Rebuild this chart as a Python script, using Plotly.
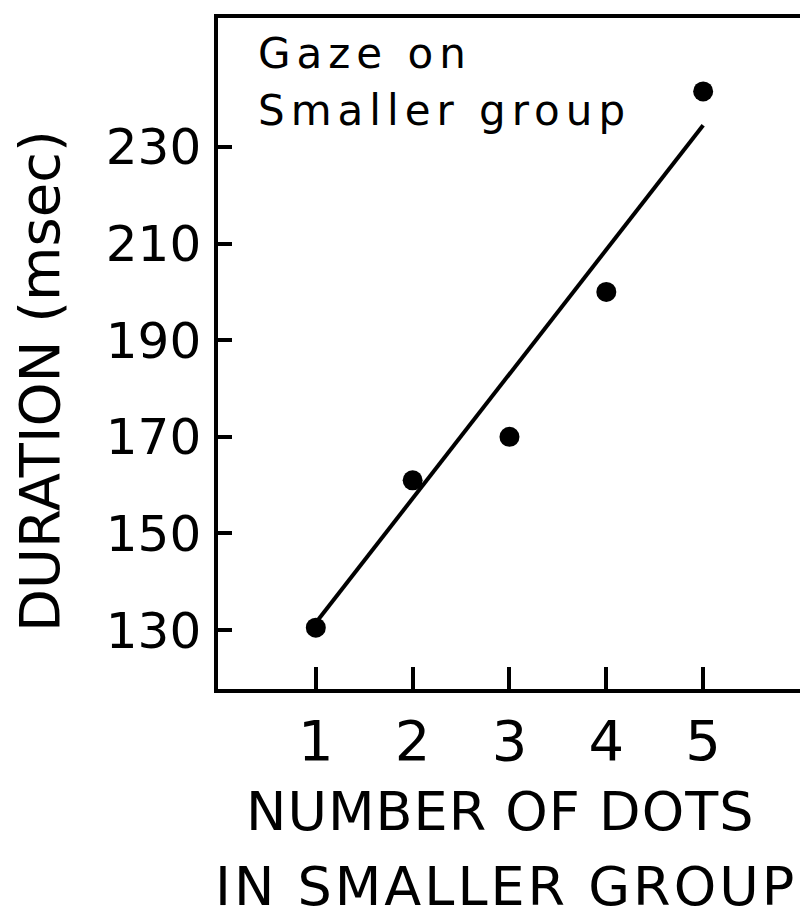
import plotly.graph_objects as go

# data
dots = [1, 2, 3, 4, 5]
duration = [130.5, 161, 170, 200, 241.5]
fit_x = [1, 5]
fit_y = [131.5, 234.5]
x_ticks = [1, 2, 3, 4, 5]
y_ticks = [130, 150, 170, 190, 210, 230]

FONT = "DejaVu Sans"

fig = go.Figure()
fig.add_trace(go.Scatter(x=fit_x, y=fit_y, mode="lines",
                         line=dict(color="black", width=4), showlegend=False))
fig.add_trace(go.Scatter(x=dots, y=duration, mode="markers",
                         marker=dict(color="black", size=20), showlegend=False))

L, R, T, B = 218, 0, 18, 231
W, H = 800, 920
ph = H - T - B
pw = W - L - R

def py(pix):
    return (H - B - pix) / ph

def px(pix):
    return (pix - L) / pw

def spaced(t, s):
    return f'<span style="letter-spacing:{s}px">{t}</span>'

fig.update_layout(
    width=W, height=H,
    margin=dict(l=L, r=R, t=T, b=B),
    paper_bgcolor="white", plot_bgcolor="white",
    font=dict(family=FONT, color="black"),
    xaxis=dict(range=[-0.01, 6.0], tickvals=x_ticks, ticks="inside", ticklen=22,
               tickwidth=3.5, tickcolor="black", showline=True, linewidth=3.5,
               linecolor="black", mirror=True, showgrid=False, zeroline=False,
               tickfont=dict(size=56, family=FONT), ticklabelstandoff=0),
    yaxis=dict(range=[117.8, 256.7], tickvals=y_ticks, ticks="inside", ticklen=14,
               tickwidth=3.5, tickcolor="black", showline=True, linewidth=3.5,
               linecolor="black", mirror=False, showgrid=False, zeroline=False,
               tickfont=dict(size=50, family=FONT), ticklabelstandoff=3),
)

fig.add_annotation(text=spaced("Gaze on", 6), x=px(256), y=py(54), xanchor="left",
                   yanchor="middle", font=dict(size=42, family=FONT),
                   xref="paper", yref="paper", showarrow=False)
fig.add_annotation(text=spaced("Smaller group", 6), x=px(256), y=py(110), xanchor="left",
                   yanchor="middle", font=dict(size=42, family=FONT),
                   xref="paper", yref="paper", showarrow=False)
fig.add_annotation(text="DURATION (msec)", textangle=-90, x=px(40), y=py(381),
                   xanchor="center", yanchor="middle", font=dict(size=56, family=FONT),
                   xref="paper", yref="paper", showarrow=False)
fig.add_annotation(text=spaced("NUMBER OF DOTS", 1), x=px(500), y=py(811), xanchor="center",
                   yanchor="middle", font=dict(size=54, family=FONT),
                   xref="paper", yref="paper", showarrow=False)
fig.add_annotation(text=spaced("IN SMALLER GROUP", 3), x=px(506), y=py(886), xanchor="center",
                   yanchor="middle", font=dict(size=54, family=FONT),
                   xref="paper", yref="paper", showarrow=False)

fig.write_html("out.html")
